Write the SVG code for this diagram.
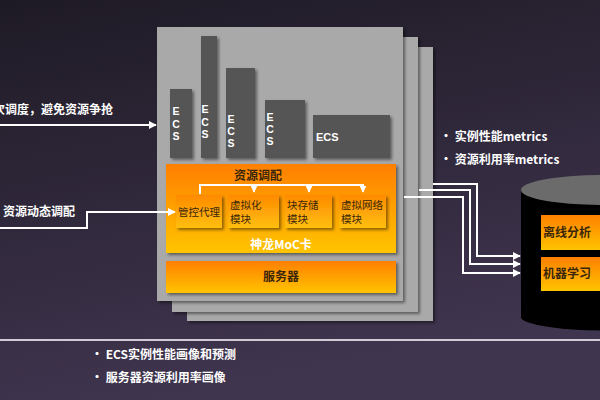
<svg xmlns="http://www.w3.org/2000/svg" width="600" height="400" viewBox="0 0 600 400">
<defs>
<linearGradient id="bg" x1="0" y1="0" x2="0.3" y2="1">
<stop offset="0" stop-color="#1e1a25"/>
<stop offset="1" stop-color="#40354f"/>
</linearGradient>
<linearGradient id="org" x1="0" y1="0" x2="0" y2="1">
<stop offset="0" stop-color="#ff7f00"/>
<stop offset="1" stop-color="#ffc400"/>
</linearGradient>
<linearGradient id="sub" x1="0" y1="0" x2="0" y2="1">
<stop offset="0" stop-color="#ff8a00"/>
<stop offset="1" stop-color="#ffbf10"/>
</linearGradient>
<filter id="sh" x="-10%" y="-10%" width="130%" height="130%">
<feDropShadow dx="2" dy="2" stdDeviation="1.5" flood-color="#000" flood-opacity="0.45"/>
</filter>
<marker id="ah" viewBox="0 0 10 10" refX="9" refY="5" markerWidth="4" markerHeight="4" orient="auto" markerUnits="strokeWidth">
<path d="M0,0 L10,5 L0,10 z" fill="#fff"/>
</marker>
<marker id="ahs" viewBox="0 0 10 10" refX="9" refY="5" markerWidth="3.5" markerHeight="3.5" orient="auto" markerUnits="strokeWidth">
<path d="M0,0 L10,5 L0,10 z" fill="#fff"/>
</marker>
</defs>
<style>
text{font-family:"Noto Sans CJK SC","Liberation Sans",sans-serif;font-weight:bold}
.w{fill:#ffffff;font-size:12px}
.d{fill:#3a2608;font-size:12px}
.ds{fill:#3a2608;font-size:10.5px;font-weight:normal}
.e{fill:#ffffff;font-size:10.5px;text-anchor:middle;font-family:"Liberation Sans",Arial,sans-serif}
.card{fill:#a9a9a9;filter:url(#sh)}
.bar{fill:#555555;filter:url(#sh)}
.ln{fill:none;stroke:#ffffff;stroke-width:2}
</style>
<rect width="600" height="400" fill="url(#bg)"/>

<g id="cards">
<rect class="card" x="187" y="47" width="246" height="274"/>
<rect class="card" x="172" y="37" width="246" height="275"/>
<rect class="card" x="157" y="27" width="246" height="274"/>
</g>

<g id="ecs-bars">
<rect class="bar" x="170" y="89" width="22" height="69"/>
<rect class="bar" x="201" y="36" width="16" height="122"/>
<rect class="bar" x="226" y="68" width="29" height="90"/>
<rect class="bar" x="265" y="100" width="40" height="58"/>
<rect class="bar" x="313" y="115" width="77" height="43"/>
<text class="e" x="176" y="115">E</text><text class="e" x="176" y="128">C</text><text class="e" x="176" y="140">S</text>
<text class="e" x="205" y="113">E</text><text class="e" x="205" y="126">C</text><text class="e" x="205" y="138">S</text>
<text class="e" x="231" y="123">E</text><text class="e" x="231" y="135">C</text><text class="e" x="231" y="147">S</text>
<text class="e" x="270" y="121">E</text><text class="e" x="270" y="133">C</text><text class="e" x="270" y="145">S</text>
<text class="e" x="316" y="141" style="text-anchor:start;font-size:11px">ECS</text>
</g>

<g id="moc">
<rect x="166" y="164" width="230" height="89" fill="url(#org)" filter="url(#sh)"/>
<text class="d" x="258" y="180" text-anchor="middle">资源调配</text>
<text class="w" x="281" y="249" text-anchor="middle">神龙MoC卡</text>
</g>
<g id="agent">
<rect x="176" y="195" width="46" height="33" fill="url(#sub)" filter="url(#sh)"/>
<text class="ds" x="178" y="216">管控代理</text>
</g>
<g id="virt">
<rect x="228" y="195" width="51" height="33" fill="url(#sub)" filter="url(#sh)"/>
<text class="ds" x="230" y="209">虚拟化</text><text class="ds" x="230" y="223">模块</text>
</g>
<g id="block">
<rect x="285" y="195" width="47" height="33" fill="url(#sub)" filter="url(#sh)"/>
<text class="ds" x="287" y="209">块存储</text><text class="ds" x="287" y="223">模块</text>
</g>
<g id="vnet">
<rect x="339" y="195" width="47" height="33" fill="url(#sub)" filter="url(#sh)"/>
<text class="ds" x="341" y="209">虚拟网络</text><text class="ds" x="341" y="223">模块</text>
</g>
<g id="server">
<rect x="166" y="261" width="230" height="32" fill="url(#org)" filter="url(#sh)"/>
<text class="d" x="281" y="281" text-anchor="middle">服务器</text>
</g>

<g id="db">
<path d="M521,190 L521,318 A80,14 0 0 0 680,318 L680,190 Z" fill="#000"/>
<ellipse cx="600" cy="190" rx="79" ry="15" fill="#6b6b6b"/>
<rect x="541" y="215" width="70" height="35" fill="url(#org)"/>
<text class="d" x="543" y="237">离线分析</text>
<rect x="541" y="257" width="70" height="34" fill="url(#org)"/>
<text class="d" x="543" y="278">机器学习</text>
</g>

<g id="connectors">
<path class="ln" d="M0,125 L156,125" marker-end="url(#ah)"/>
<path class="ln" d="M0,228 L87,228 L87,212 L175,212" marker-end="url(#ah)"/>
<path class="ln" d="M200,194 L200,185 L363,185 L363,190" stroke-width="1.8"/>
<path class="ln" d="M254,185 L254,192" marker-end="url(#ahs)"/>
<path class="ln" d="M309,185 L309,192" marker-end="url(#ahs)"/>
<path class="ln" d="M363,185 L363,192" marker-end="url(#ahs)"/>
<path class="ln" d="M433,184 L477,184 L477,256 L520,256" marker-end="url(#ah)"/>
<path class="ln" d="M419,190 L470,190 L470,264 L520,264" marker-end="url(#ah)"/>
<path class="ln" d="M404,197 L463,197 L463,273 L520,273" marker-end="url(#ah)"/>
</g>

<g id="labels">
<text class="w" x="113" y="114" text-anchor="end">次调度，避免资源争抢</text>
<text class="w" x="3" y="216">资源动态调配</text>
<text class="w" x="440" y="141">• 实例性能metrics</text>
<text class="w" x="440" y="164">• 资源利用率metrics</text>
<line x1="0" y1="340" x2="600" y2="340" stroke="#d0ccd6" stroke-width="2"/>
<text class="w" x="91" y="359">• ECS实例性能画像和预测</text>
<text class="w" x="91" y="382">• 服务器资源利用率画像</text>
</g>
</svg>
